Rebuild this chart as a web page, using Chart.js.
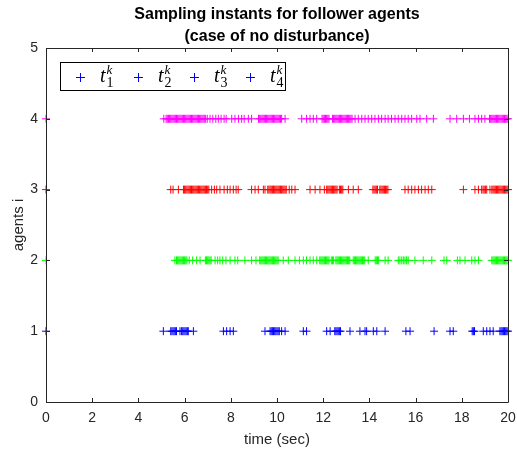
<!DOCTYPE html>
<html>
<head>
<meta charset="utf-8">
<script src="https://cdn.jsdelivr.net/npm/chart.js@4/dist/chart.umd.min.js"></script>
<style>
  html, body { margin: 0; padding: 0; background: #fff; }
  #wrap { width: 517px; height: 449px; }
</style>
</head>
<body>
<div id="wrap"><canvas id="chart"></canvas></div>
<script>
// sampling instants (sec) per follower agent
const t1 = [0, 5.08, 5.4, 5.45, 5.5, 5.55, 5.6, 5.65, 5.8, 5.87, 5.92, 5.97, 6.02, 6.07, 6.12, 6.16, 6.38,
    7.68, 7.82, 7.97, 8.11, 9.48, 9.7, 9.75, 9.8, 9.85, 9.9, 9.95, 10.0, 10.05, 10.1, 10.2, 10.35,
    11.14, 11.28, 12.15, 12.3, 12.5, 12.55, 12.6, 12.65, 12.7, 12.75, 13.16, 13.59, 13.81, 13.88,
    14.17, 14.32, 14.68, 15.58, 15.76, 16.8, 17.49, 17.63, 18.45, 18.5, 18.55, 18.93, 19.08, 19.22, 19.36,
    19.65, 19.7, 19.75, 19.8, 19.85, 19.9, 19.95, 20.0];

const t2 = [0, 5.58, 5.65, 5.7, 5.75, 5.8, 5.85, 5.9, 5.95, 6.0, 6.05, 6.1, 6.2, 6.35, 6.52, 6.67,
    6.9, 6.95, 7.0, 7.05, 7.1, 7.15, 7.32, 7.43, 7.53, 7.65, 7.79, 7.97, 8.18, 8.3, 8.61, 8.9, 9.09,
    9.25, 9.3, 9.35, 9.4, 9.45, 9.5, 9.55, 9.6, 9.65, 9.7, 9.75, 9.8, 9.85, 9.9, 9.95, 10.0, 10.05,
    10.27, 10.49, 10.78, 10.97, 11.14, 11.28, 11.43, 11.57, 11.72,
    11.85, 11.9, 11.95, 12.0, 12.05, 12.1, 12.15, 12.2, 12.25, 12.35, 12.4, 12.45,
    12.55, 12.6, 12.65, 12.7, 12.75, 12.8, 12.85, 12.9, 12.95, 13.0, 13.05, 13.1, 13.15,
    13.3, 13.35, 13.4, 13.45, 13.5, 13.55, 13.6, 13.65, 13.7, 13.75, 13.8,
    13.95, 14.25, 14.3, 14.35, 14.4, 14.68, 14.81, 15.25, 15.32, 15.4, 15.47, 15.54, 15.61, 15.68,
    15.97, 16.33, 16.7, 17.23, 17.35, 17.81, 17.92, 18.14, 18.43, 18.57, 18.72,
    19.3, 19.35, 19.4, 19.45, 19.5, 19.55, 19.6, 19.65, 19.7, 19.75, 19.8, 19.85, 19.9, 19.95, 20.0];

const t3 = [0, 5.4, 5.5, 5.73, 5.95, 6.0, 6.05, 6.1, 6.15, 6.2, 6.25, 6.3, 6.35, 6.4, 6.45, 6.5,
    6.55, 6.6, 6.65, 6.7, 6.75, 6.8, 6.85, 6.9, 6.95, 7.0, 7.05,
    7.17, 7.29, 7.39, 7.53, 7.71, 7.85, 7.97, 8.11, 8.23, 8.32, 8.9, 9.05, 9.19, 9.41, 9.48,
    9.6, 9.65, 9.7, 9.75, 9.8, 9.85, 9.9, 9.95, 10.0, 10.05, 10.1, 10.15, 10.2, 10.25, 10.3, 10.35, 10.4,
    10.53, 10.64, 10.78, 11.43, 11.65, 11.86, 12.05,
    12.15, 12.2, 12.25, 12.3, 12.35, 12.4, 12.45, 12.5, 12.55, 12.6, 12.7, 12.75, 12.8, 12.85,
    13.09, 13.3, 13.52, 14.15, 14.2, 14.25, 14.3, 14.35, 14.45, 14.5, 14.55, 14.6, 14.65, 14.7, 14.75, 14.8,
    15.54, 15.68, 15.83, 15.97, 16.12, 16.26, 16.41, 16.55, 16.7,
    18.07, 18.57, 18.72, 18.86, 18.92, 18.97, 19.03, 19.08, 19.22,
    19.3, 19.35, 19.4, 19.45, 19.5, 19.55, 19.6, 19.65, 19.7, 19.75, 19.8, 19.85, 19.9, 19.95, 20.0];

const t4 = [0, 5.1, 5.2, 5.25, 5.3, 5.35, 5.4, 5.45, 5.5, 5.55, 5.6, 5.65, 5.7, 5.75, 5.8, 5.85, 5.9,
    5.95, 6.0, 6.05, 6.1, 6.15, 6.2, 6.25, 6.3, 6.35, 6.4, 6.45, 6.5, 6.55, 6.6, 6.65, 6.7, 6.75, 6.8, 6.85, 6.9,
    6.98, 7.1, 7.22, 7.35, 7.46, 7.58, 7.71, 7.8, 8.04, 8.18, 8.33, 8.47, 8.58, 8.76, 8.9,
    9.2, 9.25, 9.3, 9.35, 9.4, 9.45, 9.5, 9.55, 9.6, 9.65, 9.7, 9.75, 9.8, 9.85, 9.9, 9.95, 10.0, 10.05, 10.1, 10.15, 10.2,
    10.35, 11.07, 11.28, 11.43, 11.57, 11.72,
    11.95, 12.0, 12.05, 12.1, 12.15, 12.2, 12.25, 12.4, 12.45, 12.5, 12.55, 12.6, 12.65, 12.7, 12.75,
    12.8, 12.85, 12.9, 12.95, 13.0, 13.05, 13.1, 13.15, 13.2, 13.25,
    13.38, 13.52, 13.67, 13.81, 13.95, 14.1, 14.24, 14.39, 14.53, 14.68, 14.81, 14.96, 15.11, 15.25,
    15.4, 15.54, 15.68, 15.83, 16.05, 16.19, 16.48, 16.77,
    17.49, 17.78, 18.07, 18.33, 18.57, 18.72, 18.86, 19.0,
    19.2, 19.25, 19.3, 19.35, 19.4, 19.45, 19.5, 19.55, 19.6, 19.65, 19.7, 19.75, 19.8, 19.85, 19.9, 19.95, 20.0];

const agentTimes = [t1, t2, t3, t4];
const agentColors = ['#0000ff', '#00ff00', '#ff0000', '#ff00ff'];
const legendSubs = ['1', '2', '3', '4'];
const xTicks = [0, 2, 4, 6, 8, 10, 12, 14, 16, 18, 20];
const yTicks = [0, 1, 2, 3, 4, 5];
const titleLines = ['Sampling instants for follower agents', '(case of no disturbance)'];

const axisColor = '#262626';
const sans = '"Liberation Sans", Arial, sans-serif';

// box round the axes with ticks pointing inward on all four sides
const boxPlugin = {
    id: 'matlabBox',
    afterDatasetsDraw(chart) {
        const { ctx, chartArea: a, scales } = chart;
        ctx.save();
        ctx.strokeStyle = axisColor;
        ctx.lineWidth = 1;
        ctx.beginPath();
        ctx.rect(Math.round(a.left) + 0.5, Math.round(a.top) + 0.5,
            Math.round(a.right - a.left), Math.round(a.bottom - a.top));
        ctx.stroke();
        const len = 4;
        ctx.beginPath();
        xTicks.forEach(v => {
            const px = Math.round(scales.x.getPixelForValue(v)) + 0.5;
            ctx.moveTo(px, a.bottom); ctx.lineTo(px, a.bottom - len);
            ctx.moveTo(px, a.top); ctx.lineTo(px, a.top + len);
        });
        yTicks.forEach(v => {
            const py = Math.round(scales.y.getPixelForValue(v)) + 0.5;
            ctx.moveTo(a.left, py); ctx.lineTo(a.left + len, py);
            ctx.moveTo(a.right, py); ctx.lineTo(a.right - len, py);
        });
        ctx.stroke();
        ctx.restore();
    },
    afterDraw(chart) {
        const { ctx, chartArea: a } = chart;
        ctx.save();
        // title centred over the axes, like MATLAB
        ctx.fillStyle = '#000';
        ctx.font = 'bold 16px ' + sans;
        ctx.textAlign = 'center';
        ctx.textBaseline = 'middle';
        const cx = (a.left + a.right) / 2;
        titleLines.forEach((line, i) => ctx.fillText(line, cx, 15 + i * 22));

        // legend with LaTeX-style labels (MATLAB draws all markers blue here)
        ctx.textAlign = 'left';
        const left = Math.round(a.left) + 14, top = Math.round(a.top) + 14, w = 225, h = 28;
        ctx.fillStyle = '#fff';
        ctx.fillRect(left, top, w, h);
        ctx.strokeStyle = '#000';
        ctx.lineWidth = 1;
        ctx.strokeRect(left + 0.5, top + 0.5, w, h);
        const cy = top + 15;
        const slots = [20, 78, 134, 190];
        legendSubs.forEach((sub, i) => {
            const mx = left + slots[i];
            ctx.fillStyle = agentColors[0];
            ctx.fillRect(mx - 4, cy, 9, 1);
            ctx.fillRect(mx, cy - 4, 1, 9);
            ctx.fillStyle = '#000';
            ctx.textBaseline = 'alphabetic';
            const tx = mx + 20;
            ctx.font = 'italic 20px "Liberation Serif", serif';
            ctx.fillText('t', tx, cy + 5);
            const tw = ctx.measureText('t').width;
            ctx.font = '14px "Liberation Serif", serif';
            ctx.fillText(sub, tx + tw + 1, cy + 10);
            ctx.font = 'italic 13px "Liberation Serif", serif';
            ctx.fillText('k', tx + tw + 1, cy - 3);
        });
        ctx.restore();
    }
};

const datasets = agentTimes.map((times, i) => ({
    label: 't' + legendSubs[i],
    data: times.map(t => ({ x: t, y: i + 1 })),
    pointStyle: 'cross',
    pointRadius: 4,
    pointBorderWidth: 1,
    borderColor: agentColors[i],
    backgroundColor: agentColors[i],
    showLine: false,
    clip: false
}));

new Chart(document.getElementById('chart'), {
    type: 'scatter',
    data: { datasets },
    plugins: [boxPlugin],
    options: {
        responsive: true,
        maintainAspectRatio: false,
        animation: false,
        events: [],
        layout: { autoPadding: false, padding: { left: 0, right: 9, top: 48, bottom: 0 } },
        plugins: {
            legend: { display: false },
            tooltip: { enabled: false },
            title: { display: false }
        },
        scales: {
            x: {
                type: 'linear',
                min: 0, max: 20,
                afterBuildTicks: s => { s.ticks = xTicks.map(v => ({ value: v })); },
                afterFit: s => { s.height = 47; s.paddingLeft = 0; s.paddingRight = 0; },
                grid: { display: false, drawTicks: false },
                border: { display: false },
                ticks: { color: axisColor, padding: 8, maxRotation: 0, font: { family: sans, size: 14 } },
                title: { display: true, text: 'time (sec)', color: axisColor, padding: { top: 3, bottom: 0 },
                    font: { family: sans, size: 15 } }
            },
            y: {
                type: 'linear',
                min: 0, max: 5,
                afterBuildTicks: s => { s.ticks = yTicks.map(v => ({ value: v })); },
                afterFit: s => { s.width = 46; s.paddingTop = 0; s.paddingBottom = 0; },
                grid: { display: false, drawTicks: false },
                border: { display: false },
                ticks: { color: axisColor, padding: 8, font: { family: sans, size: 14 } },
                title: { display: true, text: 'agents i', color: axisColor, padding: { top: 10, bottom: 0 },
                    font: { family: sans, size: 15 } }
            }
        }
    }
});
</script>
</body>
</html>
